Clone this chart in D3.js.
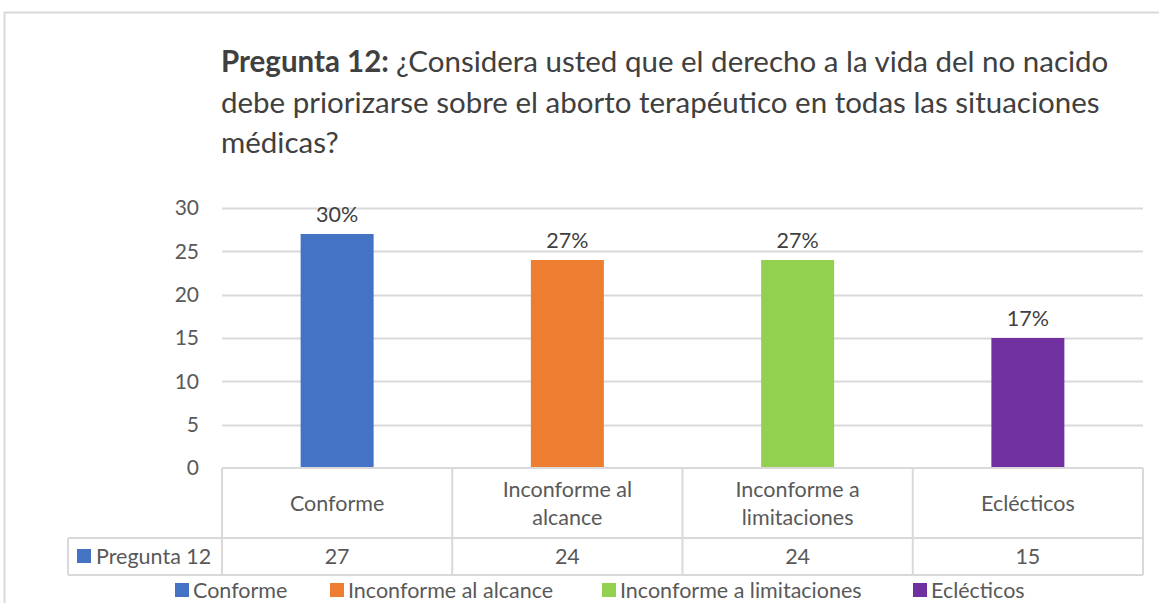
<!DOCTYPE html>
<html>
<head>
<meta charset="utf-8">
<title>Pregunta 12</title>
<style>
  body { margin: 0; background: #fff; }
  svg { display: block; font-family: Lato, 'Open Sans', sans-serif; }
</style>
</head>
<body>
<div id="chart"></div>
<script src="https://d3js.org/d3.v7.min.js"></script>
<script>

var categories = ["Conforme", "Inconforme al alcance", "Inconforme a limitaciones", "Eclécticos"];
var catLines = [["Conforme"], ["Inconforme al", "alcance"], ["Inconforme a", "limitaciones"], ["Eclécticos"]];
var values = [27, 24, 24, 15];
var colors = ["#4472C4", "#ED7D31", "#92D050", "#7030A0"];
var yTicks = [0, 5, 10, 15, 20, 25, 30];
var seriesName = "Pregunta 12";
var titleLines = [
  [{b: true, t: "Pregunta 12: "}, {b: false, t: "¿Considera usted que el derecho a la vida del no nacido"}],
  [{b: false, t: "debe priorizarse sobre el aborto terapéutico en todas las situaciones"}],
  [{b: false, t: "médicas?"}]
];

var W = 1159, H = 603;
var plot = {left: 222, right: 1143, top: 208, bottom: 468};
var tableLeft = 68, row1 = 538, row2 = 575;
var textCol = "#595959", gridCol = "#d9d9d9";

var svg = d3.select("#chart").append("svg")
  .attr("width", W).attr("height", H);

// frame
svg.append("path")
  .attr("d", "M4.5," + H + "V12.5H" + W)
  .attr("fill", "none").attr("stroke", gridCol).attr("stroke-width", 2);

// title
var title = svg.append("text")
  .attr("fill", "#404040").style("font-size", "29.5px");
titleLines.forEach(function(line, i){
  line.forEach(function(part, j){
    var ts = title.append("tspan").text(part.t)
      .style("font-weight", part.b ? "bold" : "normal");
    if (j == 0) ts.attr("x", 221).attr("y", 72 + i * 40.5);
  });
});

var x = d3.scaleBand().domain(categories).range([plot.left, plot.right]).paddingInner(0).paddingOuter(0);
var y = d3.scaleLinear().domain([0, 30]).range([plot.bottom, plot.top]);

// gridlines
svg.append("g").selectAll("line").data(yTicks.filter(function(d){ return d > 0; })).enter()
  .append("line")
  .attr("x1", plot.left).attr("x2", plot.right)
  .attr("y1", function(d){ return Math.round(y(d)) + 0.5; })
  .attr("y2", function(d){ return Math.round(y(d)) + 0.5; })
  .attr("stroke", gridCol).attr("stroke-width", 2);

// y labels
svg.append("g").selectAll("text").data(yTicks).enter()
  .append("text")
  .attr("x", 199).attr("y", function(d){ return y(d); })
  .attr("dy", "0.35em").attr("text-anchor", "end")
  .attr("fill", textCol).style("font-size", "21px")
  .text(function(d){ return d; });

// bars
var bw = x.bandwidth() * 0.317;
svg.append("g").selectAll("rect").data(values).enter()
  .append("rect")
  .attr("x", function(d, i){ return x(categories[i]) + (x.bandwidth() - bw) / 2; })
  .attr("y", function(d){ return y(d); })
  .attr("width", bw)
  .attr("height", function(d){ return y(0) - y(d); })
  .attr("fill", function(d, i){ return colors[i]; });

// data labels (share of total)
var total = d3.sum(values);
svg.append("g").selectAll("text").data(values).enter()
  .append("text")
  .attr("x", function(d, i){ return x(categories[i]) + x.bandwidth() / 2; })
  .attr("y", function(d){ return y(d) - 20; })
  .attr("dy", "0.35em").attr("text-anchor", "middle")
  .attr("fill", "#404040").style("font-size", "21.5px")
  .text(function(d){ return Math.round(d / total * 100) + "%"; });

// data table
var tbl = svg.append("g").attr("stroke", gridCol).attr("stroke-width", 2).attr("fill", "none");
tbl.append("line").attr("x1", plot.left).attr("x2", plot.right).attr("y1", plot.bottom).attr("y2", plot.bottom);
tbl.append("line").attr("x1", tableLeft).attr("x2", plot.right).attr("y1", row1).attr("y2", row1);
tbl.append("line").attr("x1", tableLeft).attr("x2", plot.right).attr("y1", row2).attr("y2", row2);
tbl.append("line").attr("x1", tableLeft).attr("x2", tableLeft).attr("y1", row1).attr("y2", row2);
tbl.selectAll(".v").data(categories.concat(["end"])).enter()
  .append("line").attr("class", "v")
  .attr("x1", function(d, i){ return plot.left + i * x.bandwidth(); })
  .attr("x2", function(d, i){ return plot.left + i * x.bandwidth(); })
  .attr("y1", plot.bottom).attr("y2", row2);

// category labels
var cl = svg.append("g").selectAll("text").data(catLines).enter()
  .append("text")
  .attr("text-anchor", "middle").attr("fill", textCol).style("font-size", "21.5px");
cl.each(function(lines, i){
  var cx = x(categories[i]) + x.bandwidth() / 2;
  var cy = (plot.bottom + row1) / 2;
  var t = d3.select(this);
  lines.forEach(function(s, k){
    t.append("tspan").attr("x", cx)
      .attr("y", cy + (k - (lines.length - 1) / 2) * 28)
      .attr("dy", "0.35em").text(s);
  });
});

// value row
svg.append("rect").attr("x", 77).attr("y", 549).attr("width", 14).attr("height", 14).attr("fill", colors[0]);
svg.append("text").attr("x", 96).attr("y", (row1 + row2) / 2).attr("dy", "0.35em")
  .attr("fill", textCol).style("font-size", "21.5px").text(seriesName);
svg.append("g").selectAll("text").data(values).enter()
  .append("text")
  .attr("x", function(d, i){ return x(categories[i]) + x.bandwidth() / 2; })
  .attr("y", (row1 + row2) / 2).attr("dy", "0.35em").attr("text-anchor", "middle")
  .attr("fill", textCol).style("font-size", "21.5px")
  .text(function(d){ return d; });

// legend
var legX = [175, 330, 602, 913];
var leg = svg.append("g").selectAll("g").data(categories).enter()
  .append("g").attr("transform", function(d, i){ return "translate(" + legX[i] + ",590)"; });
leg.append("rect").attr("x", 0).attr("y", -7).attr("width", 14).attr("height", 14)
  .attr("fill", function(d, i){ return colors[i]; });
leg.append("text").attr("x", 18).attr("dy", "0.35em")
  .attr("fill", textCol).style("font-size", "21.5px")
  .text(function(d){ return d; });

</script>
</body>
</html>
